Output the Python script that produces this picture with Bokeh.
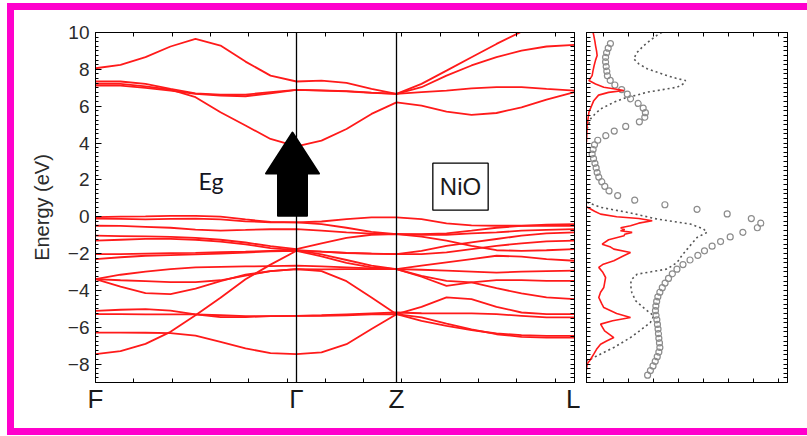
from bokeh.plotting import figure
from bokeh.models import FixedTicker, LinearAxis, Span, Label, Range1d, Spacer, Row, Column
from bokeh.embed import file_html
from bokeh.resources import INLINE

# ---------------- band structure data (energies in eV, E_F = 0) ----------------
# sample positions along the path F - Gamma - Z - L (path length, arbitrary units)
K = [0, 25, 50, 75, 100, 125, 150, 175, 201, 226, 251, 276, 301,
     326, 351, 376, 401, 426, 451, 479]
K_POINTS = [0, 201, 301, 479]
K_LABELS = ["F", "\u0393", "Z", "L"]

# conduction bands
c1 = [7.21, 7.21, 7.08, 6.90, 6.49, 5.67, 4.95, 4.22, 3.82, 4.13, 4.76, 5.58, 6.21,
      6.03, 5.71, 5.53, 5.63, 5.94, 6.36, 6.76]
c2 = [7.34, 7.34, 7.21, 6.94, 6.70, 6.63, 6.63, 6.76, 6.88, 6.85, 6.80, 6.72, 6.67,
      7.03, 7.66, 8.21, 8.66, 9.02, 9.24, 9.33]
c3 = [7.12, 7.12, 6.99, 6.85, 6.67, 6.58, 6.54, 6.70, 6.88, 6.86, 6.82, 6.74, 6.67,
      6.76, 6.85, 6.97, 7.03, 7.03, 6.94, 6.85]
c4 = [8.06, 8.24, 8.66, 9.24, 9.65, 9.29, 8.42, 7.66, 7.34, 7.39, 7.27, 6.94, 6.67,
      7.21, 7.93, 8.66, 9.38, 10.05, 10.70, 11.30]

# valence bands
v1 = [-0.02, 0.00, 0.02, 0.05, 0.05, 0.00, -0.15, -0.28, -0.31, -0.26, -0.13, -0.04, -0.04,
      -0.13, -0.36, -0.47, -0.49, -0.49, -0.49, -0.49]
v2 = [-0.10, -0.12, -0.15, -0.12, -0.10, -0.15, -0.25, -0.30, -0.31, -0.40, -0.60, -0.82, -0.94,
      -0.94, -0.90, -0.76, -0.60, -0.50, -0.43, -0.40]
v3 = [-0.49, -0.50, -0.55, -0.60, -0.70, -0.75, -0.72, -0.68, -0.67, -0.75, -0.85, -0.92, -0.94,
      -0.98, -0.98, -0.90, -0.85, -0.76, -0.71, -0.67]
v4 = [-1.03, -1.05, -1.07, -1.10, -1.15, -1.25, -1.40, -1.60, -1.76, -1.45, -1.15, -0.98, -0.94,
      -1.08, -1.30, -1.58, -1.82, -1.85, -1.82, -1.76]
v5 = [-1.30, -1.25, -1.20, -1.20, -1.25, -1.35, -1.50, -1.70, -1.81, -1.90, -1.97, -2.00, -2.03,
      -1.85, -1.58, -1.39, -1.21, -1.03, -0.90, -0.85]
v6 = [-2.03, -2.03, -2.00, -1.98, -1.96, -1.93, -1.90, -1.85, -1.81, -2.05, -2.35, -2.65, -2.84,
      -2.88, -2.93, -2.98, -3.03, -2.98, -2.95, -2.93]
v7 = [-2.30, -2.20, -2.12, -2.08, -2.05, -2.00, -1.95, -1.88, -1.85, -1.90, -1.96, -2.00, -2.03,
      -2.03, -1.94, -1.76, -1.58, -1.45, -1.34, -1.30]
v8 = [-7.46, -7.30, -6.90, -6.25, -5.35, -4.40, -3.40, -2.60, -1.85, -2.15, -2.50, -2.75, -2.84,
      -2.66, -2.48, -2.30, -2.12, -2.17, -2.30, -2.39]
v9 = [-3.39, -3.15, -2.98, -2.85, -2.75, -2.72, -2.70, -2.68, -2.66, -2.70, -2.75, -2.80, -2.84,
      -3.26, -3.75, -3.57, -3.44, -3.44, -3.48, -3.48]
v10 = [-3.39, -3.45, -3.50, -3.55, -3.55, -3.45, -3.20, -2.95, -2.84, -2.86, -2.84, -2.84, -2.84,
       -3.21, -3.48, -3.57, -3.88, -4.16, -4.38, -4.47]
v11 = [-3.39, -3.80, -4.15, -4.20, -3.90, -3.50, -3.15, -2.95, -2.84, -2.95, -3.50, -4.38, -5.29,
       -4.89, -4.38, -4.47, -4.89, -5.20, -5.29, -5.29]
v12 = [-5.11, -5.05, -5.02, -5.10, -5.30, -5.45, -5.45, -5.40, -5.38, -5.35, -5.30, -5.25, -5.20,
       -5.24, -5.25, -5.25, -5.29, -5.38, -5.47, -5.47]
v13 = [-5.29, -5.29, -5.30, -5.30, -5.30, -5.35, -5.40, -5.40, -5.38, -5.38, -5.35, -5.30, -5.29,
       -5.65, -5.92, -6.16, -6.34, -6.43, -6.47, -6.47]
v14 = [-6.29, -6.29, -6.30, -6.32, -6.45, -6.80, -7.15, -7.40, -7.46, -7.37, -6.92, -6.10, -5.29,
       -5.47, -5.80, -6.11, -6.38, -6.52, -6.56, -6.56]

BANDS = [c1, c2, c3, c4, v1, v2, v3, v4, v5, v6, v7, v8, v9, v10, v11, v12, v13, v14]

# ---------------- density of states (arbitrary units) ----------------
# Ni-d projected DOS (solid red), unoccupied and occupied parts
ni_cb_e = [10.0, 9.84, 9.5, 9.29, 9.0, 8.75, 8.5, 8.21, 7.9, 7.66, 7.39, 7.2, 7.03, 6.92,
           6.85, 6.75, 6.6, 6.3, 5.67, 4.95, 4.04]
ni_cb_u = [0.33, 0.36, 0.42, 0.45, 0.50, 0.53, 0.45, 0.38, 0.32, 0.28, 0.12, 0.45, 0.86, 1.50,
           1.86, 1.10, 0.60, 0.36, 0.12, 0.03, 0.00]
ni_vb_e = [0.55, 0.51, 0.3, 0.14, 0.0, -0.1, -0.22, -0.35, -0.49, -0.6, -0.7, -0.76, -0.85,
           -0.95, -1.03, -1.25, -1.49, -1.65, -1.76, -1.94, -2.15, -2.39, -2.6, -2.75, -3.0,
           -3.3, -3.6, -3.84, -4.1, -4.38, -4.7, -4.93, -5.25, -5.47, -5.65, -5.83, -6.2,
           -6.56, -6.75, -6.92, -7.2, -7.46, -7.75, -8.0, -8.3]
ni_vb_u = [0.00, 0.05, 0.40, 0.70, 1.50, 2.60, 3.27, 2.60, 2.19, 1.70, 1.90, 1.69, 2.27,
           1.90, 1.87, 1.10, 0.78, 1.20, 1.36, 2.19, 1.80, 1.36, 0.80, 0.61, 0.80,
           0.95, 0.90, 0.86, 0.70, 0.61, 0.75, 0.86, 1.50, 2.19, 1.30, 0.70, 0.90,
           1.36, 1.00, 0.70, 0.50, 0.36, 0.20, 0.03, 0.00]

# total DOS (grey dotted)
tot_cb_e = [10.0, 9.93, 9.6, 9.29, 8.9, 8.57, 8.3, 8.03, 7.85, 7.66, 7.5, 7.39, 7.2, 7.03,
            6.9, 6.76, 6.6, 6.49, 6.21, 5.85, 5.55, 5.31, 4.77]
tot_cb_u = [3.75, 3.60, 3.20, 2.85, 2.50, 2.35, 2.60, 3.02, 3.50, 4.01, 4.50, 4.93, 4.80, 4.51,
            3.80, 3.02, 2.50, 2.02, 1.36, 0.70, 0.40, 0.20, 0.03]
tot_vb_e = [0.78, 0.51, 0.2, -0.13, -0.4, -0.65, -0.85, -1.12, -1.45, -1.76, -2.1, -2.48,
            -2.84, -3.12, -3.4, -3.66, -4.1, -4.56, -5.0, -5.38, -5.74, -6.15, -6.56, -7.1,
            -7.64, -7.83]
tot_vb_u = [0.03, 0.70, 2.20, 3.52, 5.17, 5.80, 6.00, 5.51, 5.25, 5.01, 4.75, 4.51,
            4.01, 2.52, 2.25, 2.19, 2.25, 2.44, 2.90, 3.35, 3.18, 2.70, 2.19, 1.36,
            0.36, 0.03]

# O-p projected DOS (open circles)
op_e = [9.4, 9.15, 8.9, 8.65, 8.4, 8.15, 7.9, 7.65, 7.4, 7.15, 6.9, 6.65, 6.4, 6.15, 5.9,
        5.65, 5.4, 5.15, 4.9, 4.65, 4.4, 4.15, 3.9, 3.65, 3.4, 3.15, 2.9, 2.65, 2.4, 2.15,
        1.9, 1.65, 1.4, 1.15, 0.9, 0.65, 0.4, 0.15, -0.1, -0.35, -0.6, -0.85, -1.1, -1.35,
        -1.6, -1.85, -2.1, -2.35, -2.6, -2.85, -3.1, -3.35, -3.6, -3.85, -4.1, -4.35, -4.6,
        -4.85, -5.1, -5.35, -5.6, -5.85, -6.1, -6.35, -6.6, -6.85, -7.1, -7.35, -7.6, -7.85,
        -8.1, -8.35, -8.6]
op_u = [1.19, 1.08, 1.00, 0.95, 0.95, 0.98, 1.01, 1.04, 1.18, 1.41, 1.75, 2.03, 2.19, 2.57,
        2.82, 2.93, 2.90, 2.63, 1.95, 1.38, 0.96, 0.56, 0.40, 0.33, 0.28, 0.35, 0.42, 0.48,
        0.53, 0.61, 0.76, 0.91, 1.12, 1.55, 2.40, 3.90, 5.50, 7.00, 8.20, 8.67, 8.50, 7.78,
        7.15, 6.67, 6.25, 5.87, 5.54, 5.15, 4.80, 4.50, 4.27, 4.08, 3.91, 3.77, 3.65, 3.55,
        3.49, 3.45, 3.43, 3.46, 3.50, 3.53, 3.56, 3.58, 3.60, 3.63, 3.65, 3.60, 3.52, 3.42,
        3.31, 3.18, 3.04]

E_RANGE = (-9, 10)
E_MAJOR = [-8, -6, -4, -2, 0, 2, 4, 6, 8, 10]
E_MINOR = [-9 + 0.25 * i for i in range(77)]
PATH_MINOR = [38.3 * i for i in range(1, 13)]
DOS_MINOR = [0.85 + 1.245 * i for i in range(8)]

RED = "#ff1a1a"
INK = "#2b2b2b"
MAGENTA = "#ff00cc"


def tick_axis(axis, major_in, minor_in):
    axis.major_tick_in = major_in
    axis.major_tick_out = 0
    axis.minor_tick_in = minor_in
    axis.minor_tick_out = 0
    axis.axis_line_color = "black"
    axis.major_tick_line_color = "black"
    axis.minor_tick_line_color = "black"
    return axis


def tick_only(ticks, length):
    # an axis that draws only inward tick marks and no labels
    axis = LinearAxis(ticker=FixedTicker(ticks=[], minor_ticks=ticks))
    return tick_axis(axis, 0, length)


# ---------------- band structure panel ----------------
p1 = figure(width=566, height=418, x_range=Range1d(0, K_POINTS[-1]), y_range=Range1d(*E_RANGE),
            x_axis_location=None, y_axis_location=None,
            min_border_left=81, min_border_right=6, min_border_top=22, min_border_bottom=46,
            output_backend="svg", toolbar_location=None)
p1.grid.visible = False
p1.outline_line_color = "black"
p1.border_fill_color = "white"

e_ticker = FixedTicker(ticks=E_MAJOR, minor_ticks=E_MINOR)
k_ticker = FixedTicker(ticks=K_POINTS, minor_ticks=PATH_MINOR)

yl = tick_axis(LinearAxis(ticker=e_ticker, axis_label="Energy (eV)"), 6, 3)
yl.major_label_text_font = "Liberation Sans"
yl.major_label_text_font_size = "19px"
yl.major_label_text_color = INK
yl.major_label_standoff = 6
yl.axis_label_text_font = "Liberation Sans"
yl.axis_label_text_font_size = "20px"
yl.axis_label_text_font_style = "normal"
yl.axis_label_text_color = INK
yl.axis_label_standoff = 12
p1.add_layout(yl, "left")

p1.add_layout(tick_only(E_MINOR, 4), "right")

xb = tick_axis(LinearAxis(ticker=k_ticker), 0, 4)
xb.major_label_overrides = dict(zip(K_POINTS, K_LABELS))
xb.major_label_text_font = "Liberation Sans"
xb.major_label_text_font_size = "26px"
xb.major_label_text_color = "#1a1a1a"
xb.major_label_standoff = 1
p1.add_layout(xb, "below")

p1.add_layout(tick_only(PATH_MINOR, 4), "above")

# high-symmetry lines
for k in K_POINTS[1:-1]:
    p1.add_layout(Span(location=k, dimension="height", line_color="black", line_width=1.3))

for band in BANDS:
    p1.line(K, band, line_color=RED, line_width=1.8)

# band-gap arrow: from the valence band top up past the conduction band minimum
arrow_k, arrow_base, arrow_tip, arrow_neck = 197, 0.05, 4.57, 2.34
shaft_half, head_half = 14.5, 26.5
ax = [arrow_k - shaft_half, arrow_k - shaft_half, arrow_k - head_half, arrow_k,
      arrow_k + head_half, arrow_k + shaft_half, arrow_k + shaft_half]
ay = [arrow_base, arrow_neck, arrow_neck, arrow_tip, arrow_neck, arrow_neck, arrow_base]
p1.patch(ax, ay, fill_color="black", line_color="black", line_width=2, line_join="round")

p1.add_layout(Label(x=103, y=1.95, text="Eg", text_font="Lato", text_font_size="23px",
                    text_color="#15151f", text_baseline="alphabetic"))
p1.add_layout(Label(x=365, y=1.63, text="NiO", text_font="Liberation Sans",
                    text_font_size="24px", text_color="#1a1a1a", text_align="center",
                    text_baseline="middle", border_line_color="black", border_line_width=1.3,
                    background_fill_color="white", padding=(7, 10)))

# ---------------- DOS panel ----------------
p2 = figure(width=220, height=418, x_range=Range1d(0, 10), y_range=Range1d(*E_RANGE),
            x_axis_location=None, y_axis_location=None,
            min_border_left=6, min_border_right=13, min_border_top=22, min_border_bottom=46,
            output_backend="svg", toolbar_location=None)
p2.grid.visible = False
p2.outline_line_color = "black"
p2.border_fill_color = "white"

p2.add_layout(tick_only(E_MINOR, 4), "left")
p2.add_layout(tick_only(E_MINOR, 4), "right")
p2.add_layout(tick_only(DOS_MINOR, 4), "above")
p2.add_layout(tick_only(DOS_MINOR, 4), "below")

p2.line(tot_cb_u, tot_cb_e, line_color="#555555", line_width=1.6, line_dash="2 3")
p2.line(tot_vb_u, tot_vb_e, line_color="#555555", line_width=1.6, line_dash="2 3")
p2.scatter(op_u, op_e, marker="circle", size=6, fill_color=None,
           line_color="#8c8c8c", line_width=1.2)
p2.line(ni_cb_u, ni_cb_e, line_color=RED, line_width=1.6)
p2.line(ni_vb_u, ni_vb_e, line_color=RED, line_width=1.6)

# ---------------- page with coloured frame ----------------
WHITE = {"background-color": "white"}
BAR = {"background-color": MAGENTA}
layout = Column(children=[
    Spacer(width=807, height=3, styles=WHITE),
    Row(children=[Spacer(width=7, height=7, styles=WHITE), Spacer(width=800, height=7, styles=BAR)]),
    Row(children=[Spacer(width=7, height=418, styles=WHITE), Spacer(width=7, height=418, styles=BAR),
                  p1, p2, Spacer(width=7, height=418, styles=WHITE)]),
    Row(children=[Spacer(width=7, height=7, styles=WHITE), Spacer(width=800, height=7, styles=BAR)]),
])

open("out.html", "w").write(file_html(layout, INLINE))
